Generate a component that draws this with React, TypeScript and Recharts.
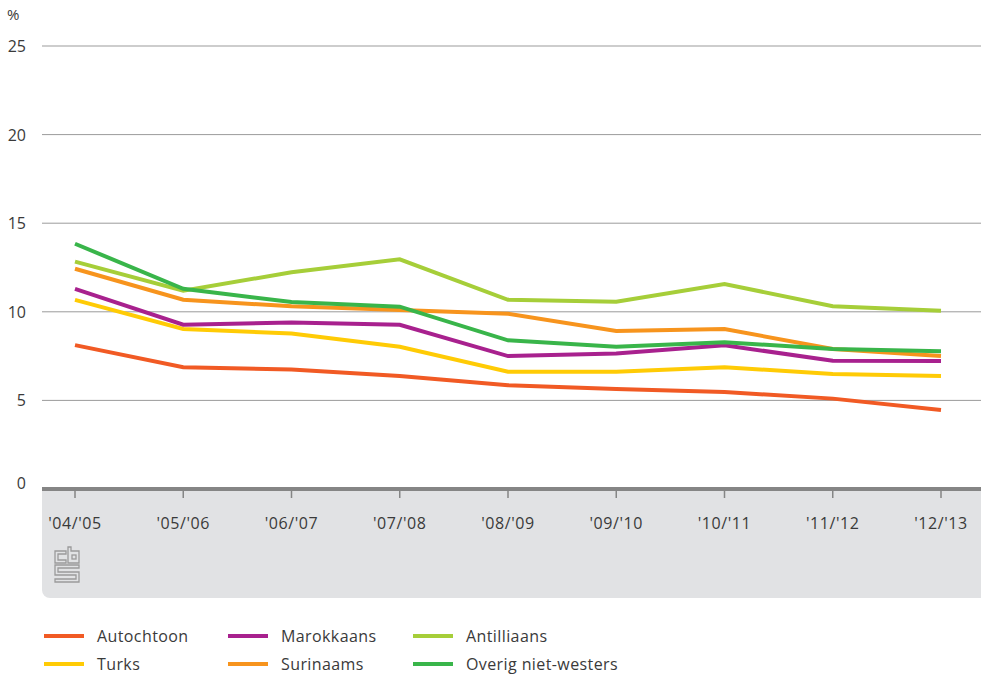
import React from "react";
import { LineChart, Line, XAxis, YAxis, CartesianGrid } from "recharts";

const categories = ["'04/'05", "'05/'06", "'06/'07", "'07/'08", "'08/'09", "'09/'10", "'10/'11", "'11/'12", "'12/'13"];
const autochtoon = [8.12, 6.87, 6.75, 6.38, 5.86, 5.64, 5.47, 5.1, 4.46];
const turks = [10.67, 9.03, 8.77, 8.03, 6.62, 6.62, 6.87, 6.49, 6.38];
const marokkaans = [11.29, 9.27, 9.4, 9.27, 7.5, 7.64, 8.11, 7.24, 7.22];
const surinaams = [12.43, 10.68, 10.31, 10.1, 9.89, 8.92, 9.03, 7.9, 7.5];
const antilliaans = [12.83, 11.19, 12.23, 12.96, 10.68, 10.57, 11.57, 10.31, 10.06];
const overig = [13.84, 11.3, 10.55, 10.29, 8.39, 8.03, 8.28, 7.9, 7.77];
const yTicks = [0, 5, 10, 15, 20, 25];

const seriesNames = ["Autochtoon", "Turks", "Marokkaans", "Surinaams", "Antilliaans", "Overig niet-westers"];
const seriesValues = [autochtoon, turks, marokkaans, surinaams, antilliaans, overig];
const legendOrder = ["Autochtoon", "Marokkaans", "Antilliaans", "Turks", "Surinaams", "Overig niet-westers"];

const colors: Record<string, string> = {
  Autochtoon: "#f15a24",
  Turks: "#ffcb05",
  Marokkaans: "#a8218e",
  Surinaams: "#f7941d",
  Antilliaans: "#a6ce39",
  "Overig niet-westers": "#39b54a",
};

const data = categories.map((c, i) => {
  const row: Record<string, any> = { cat: c };
  seriesNames.forEach((n, j) => (row[n] = seriesValues[j][i]));
  return row;
});

const FONT = "'Open Sans', sans-serif";
const TEXT = "#3a3a3a";

const XTick = (props: any) => {
  const { x, y, payload } = props;
  return (
    <text x={x} y={y} dy="0.71em" textAnchor="middle" fill={TEXT} fontSize={16} fontFamily={FONT} letterSpacing={0.6}>
      {payload.value}
    </text>
  );
};

const YTick = (props: any) => {
  const { x, y, payload } = props;
  return (
    <text x={x} y={y} dy={payload.value === 0 ? -6 : 0} dominantBaseline="central" textAnchor="end" fill={TEXT} fontSize={16} fontFamily={FONT}>
      {payload.value}
    </text>
  );
};

const CbsLogo = () => (
  <svg width={28} height={38} viewBox="0 0 28 38" style={{ position: "absolute", left: 54, top: 546 }}>
    <g fill="none" stroke="#9a9a9a" strokeWidth={1.3}>
      <path d="M1 5 H12 V8 H4 V14 H12 V17 H1 Z" />
      <path d="M14 1 H17 V5 H25 V17 H14 Z" />
      <rect x={18} y={9} width={4} height={4} />
      <path d="M1 19 H25 V22 H4 V26 H25 V36 H1 V33 H22 V29 H1 Z" />
    </g>
  </svg>
);

export default function App() {
  return (
    <div style={{ position: "absolute", left: 0, top: 0, width: 981, height: 674, background: "#fff", fontFamily: FONT }}>
      <div
        style={{
          position: "absolute",
          left: 42,
          top: 489,
          width: 939,
          height: 109,
          background: "#e1e2e4",
          borderBottomLeftRadius: 8,
        }}
      />
      <CbsLogo />
      <div style={{ position: "absolute", left: 7, top: 4, fontSize: 15, color: TEXT }}>%</div>
      <div style={{ position: "absolute", left: 0, top: 0 }}>
        <LineChart width={981} height={600} data={data} margin={{ top: 46, right: 0, left: 0, bottom: 71 }}>
          <CartesianGrid horizontal vertical={false} stroke="#9b9b9b" strokeWidth={1} />
          <YAxis
            width={42}
            domain={[0, 25]}
            ticks={yTicks}
            axisLine={false}
            tickLine={false}
            tickMargin={10}
            tick={<YTick />}
            interval={0}
          />
          <XAxis
            dataKey="cat"
            height={40}
            padding={{ left: 33, right: 40 }}
            axisLine={{ stroke: "#858585", strokeWidth: 4 }}
            tickLine={{ stroke: "#858585", strokeWidth: 1.5 }}
            tickSize={9}
            tickMargin={20}
            tick={<XTick />}
            interval={0}
          />
          {seriesNames.map((n) => (
            <Line key={n} type="linear" dataKey={n} stroke={colors[n]} strokeWidth={4} dot={false} isAnimationActive={false} />
          ))}
        </LineChart>
      </div>
      <div
        style={{
          position: "absolute",
          left: 44,
          top: 626,
          display: "grid",
          gridTemplateColumns: "184px 185px 260px",
          rowGap: 8,
        }}
      >
        {legendOrder.map((n) => (
          <div key={n} style={{ display: "flex", alignItems: "center", height: 20, whiteSpace: "nowrap" }}>
            <div style={{ width: 40, height: 4, background: colors[n], marginRight: 13, flexShrink: 0 }} />
            <span style={{ fontSize: 16, color: TEXT, letterSpacing: 0.4, lineHeight: "20px" }}>{n}</span>
          </div>
        ))}
      </div>
    </div>
  );
}
